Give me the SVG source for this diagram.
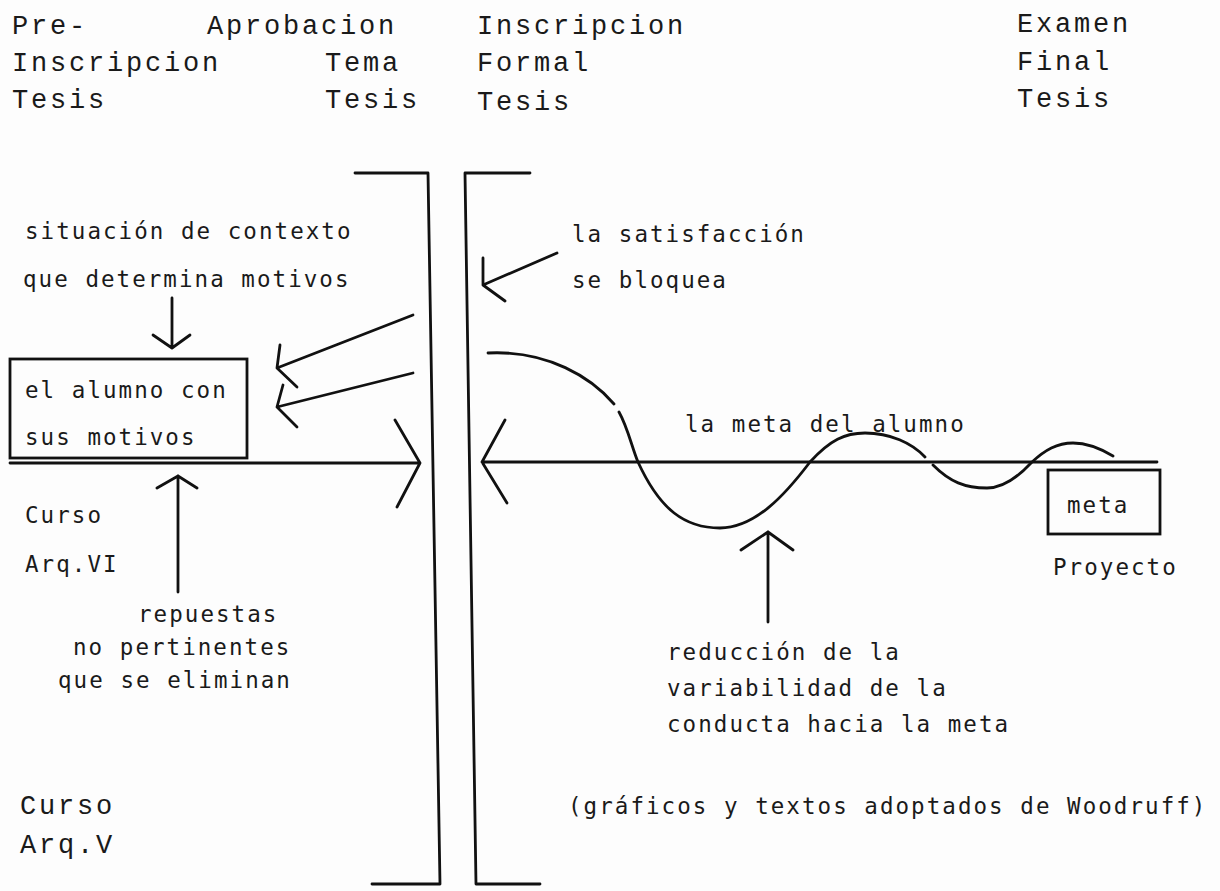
<svg xmlns="http://www.w3.org/2000/svg" width="1220" height="891" viewBox="0 0 1220 891">
<style>
.tw{font-family:"Liberation Mono","Courier New",monospace;font-size:27px;letter-spacing:2.8px;fill:#1a1a1a}
.lg{font-family:"DejaVu Sans Mono",monospace;font-size:22.5px;letter-spacing:2.05px;fill:#1a1a1a}
.ln{stroke:#111;stroke-width:2.8;fill:none;stroke-linecap:round;stroke-linejoin:round}
.bx{stroke:#111;stroke-width:2.8;fill:none}
</style>
<rect width="1220" height="891" fill="#fdfdfd"/>
<g id="header">
<text class="tw" x="12" y="34">Pre-</text>
<text class="tw" x="12" y="71">Inscripcion</text>
<text class="tw" x="12" y="108">Tesis</text>
<text class="tw" x="207" y="34">Aprobacion</text>
<text class="tw" x="325" y="71">Tema</text>
<text class="tw" x="325" y="108">Tesis</text>
<text class="tw" x="477" y="34">Inscripcion</text>
<text class="tw" x="477" y="71">Formal</text>
<text class="tw" x="477" y="110">Tesis</text>
<text class="tw" x="1017" y="32">Examen</text>
<text class="tw" x="1017" y="70">Final</text>
<text class="tw" x="1017" y="107">Tesis</text>
</g>
<g id="barrier">
<path class="ln" d="M355,173 L428,173 L440,884 L372,884"/>
<path class="ln" d="M530,173 L465,173 L476,884 L540,884"/>
</g>
<g id="contexto">
<text class="lg" x="25" y="239">situación de contexto</text>
<text class="lg" x="23" y="287">que determina motivos</text>
</g>
<g id="alumno">
<rect class="bx" x="10" y="359" width="237" height="99"/>
<text class="lg" x="25" y="398">el alumno con</text>
<text class="lg" x="25" y="445">sus motivos</text>
</g>
<g id="satisfaccion">
<text class="lg" x="572" y="242">la satisfacción</text>
<text class="lg" x="572" y="288">se bloquea</text>
</g>
<g id="curso-vi">
<text class="lg" x="25" y="523">Curso</text>
<text class="lg" x="25" y="572">Arq.VI</text>
</g>
<g id="repuestas">
<text class="lg" x="138" y="622">repuestas</text>
<text class="lg" x="73" y="655">no pertinentes</text>
<text class="lg" x="58" y="688">que se eliminan</text>
</g>
<g id="meta-alumno">
<text class="lg" x="685" y="432">la meta del alumno</text>
</g>
<g id="meta">
<rect class="bx" x="1048" y="470" width="112" height="64"/>
<text class="lg" x="1067" y="513">meta</text>
<text class="lg" x="1053" y="575">Proyecto</text>
</g>
<g id="reduccion">
<text class="lg" x="667" y="660">reducción de la</text>
<text class="lg" x="667" y="696">variabilidad de la</text>
<text class="lg" x="667" y="732">conducta hacia la meta</text>
</g>
<g id="curso-v">
<text class="tw" x="20" y="814">Curso</text>
<text class="tw" x="20" y="853">Arq.V</text>
</g>
<g id="fuente">
<text class="lg" x="568" y="814">(gráficos y textos adoptados de Woodruff)</text>
</g>
<g id="connectors">
<path class="ln" d="M172,298 L172,348 M153,335 L172,348 L190,335"/>
<path class="ln" d="M413,315 L277,368 M280,345 L277,368 L297,387"/>
<path class="ln" d="M413,373 L277,407 M283,385 L277,407 L297,427"/>
<path class="ln" d="M10,463 L420,463 M395,420 L420,463 L397,507"/>
<path class="ln" d="M178,592 L178,476 M157,488 L178,476 L197,488"/>
<path class="ln" d="M557,253 L483,285 M483,258 L483,285 L505,301"/>
<path class="ln" d="M1157,462 L482,462 M505,420 L482,462 L507,503"/>
<path class="ln" d="M488,353 C548,350 592,378 614,404"/>
<path class="ln" d="M619,412 C628,428 632,448 638,462 C660,510 685,528 720,528 C755,528 785,495 810,462 C830,440 845,433 865,433 C890,433 912,443 925,457"/>
<path class="ln" d="M933,465 C950,482 965,488 987,488 C1005,488 1020,475 1032,462 C1045,450 1057,443 1073,443 C1090,443 1103,450 1113,456"/>
<path class="ln" d="M768,622 L768,532 M741,550 L768,532 L793,550"/>
</g>
</svg>
